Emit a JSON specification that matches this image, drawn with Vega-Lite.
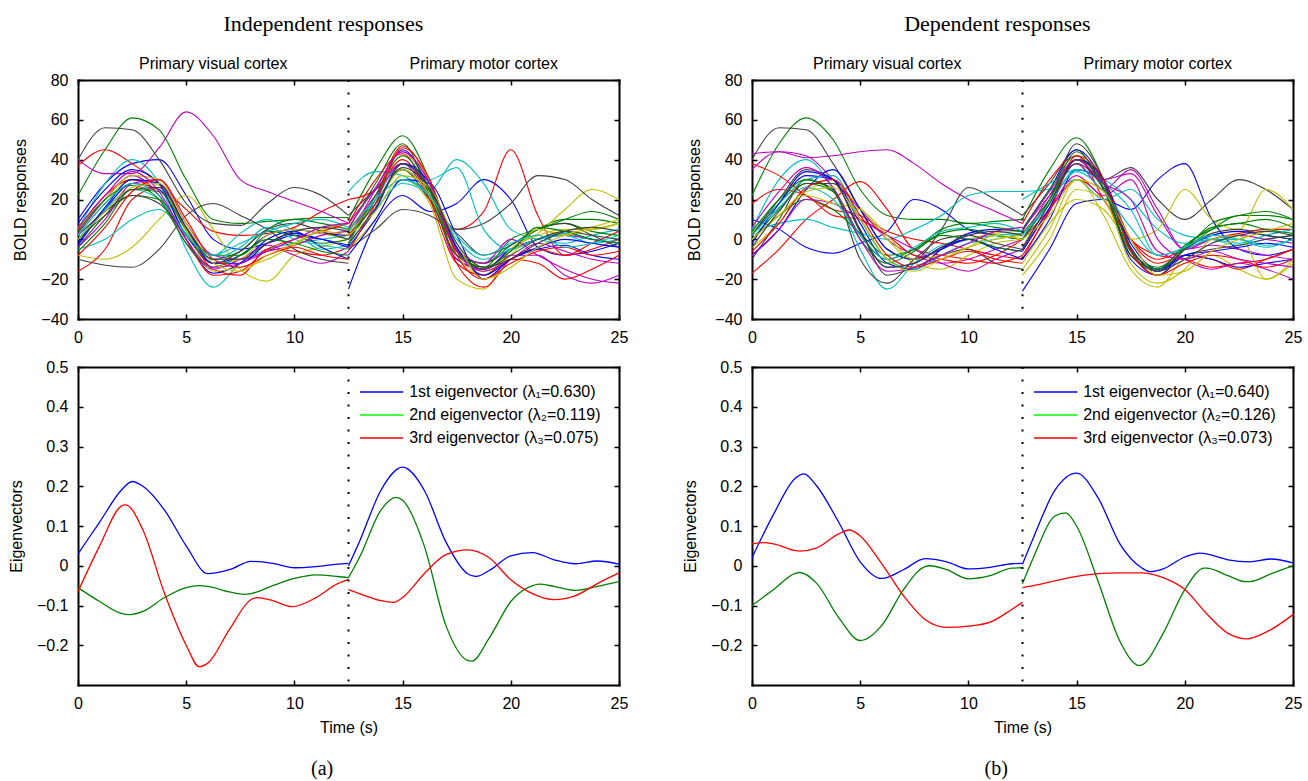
{
"$schema":"https://vega.github.io/schema/vega-lite/v6.json",
"background":"white",
"padding":{"left":8,"top":13,"right":6,"bottom":4},
"config":{"view":{"stroke":null},"font":"Liberation Sans",
"axis":{"grid":false,"domainColor":"black","domainWidth":2,"domainCap":"square","tickColor":"black","tickWidth":1.5,"tickSize":-5,"labelFont":"Liberation Sans","labelFontSize":16,"labelColor":"black","labelPadding":15,"titleFont":"Liberation Sans","titleFontSize":16,"titleFontWeight":"normal","titleColor":"black","titlePadding":12,"labelFlush":false,"labelOverlap":false,"zindex":1},
"axisX":{"labelPadding":15,"titlePadding":8},
"text":{"font":"Liberation Sans","fontSize":16,"color":"black"}},
"datasets":{
"ia":[
{"c":1,"s":0,"t":0,"y":10},{"c":1,"s":0,"t":1.25,"y":28},{"c":1,"s":0,"t":2.5,"y":38},{"c":1,"s":0,"t":3.75,"y":40},{"c":1,"s":0,"t":5,"y":22},{"c":1,"s":0,"t":6.25,"y":0},{"c":1,"s":0,"t":7.5,"y":-5},{"c":1,"s":0,"t":8.75,"y":-2},{"c":1,"s":0,"t":10,"y":2},{"c":1,"s":0,"t":11.25,"y":0},{"c":1,"s":0,"t":12.5,"y":-3},
{"c":1,"s":1,"t":12.5,"y":-25},{"c":1,"s":1,"t":13.75,"y":8},{"c":1,"s":1,"t":15,"y":22},{"c":1,"s":1,"t":16.25,"y":14},{"c":1,"s":1,"t":17.5,"y":18},{"c":1,"s":1,"t":18.75,"y":30},{"c":1,"s":1,"t":20,"y":20},{"c":1,"s":1,"t":21.25,"y":-4},{"c":1,"s":1,"t":22.5,"y":-8},{"c":1,"s":1,"t":23.75,"y":-6},{"c":1,"s":1,"t":25,"y":-2},
{"c":2,"s":0,"t":0,"y":22},{"c":2,"s":0,"t":1.25,"y":45},{"c":2,"s":0,"t":2.5,"y":61},{"c":2,"s":0,"t":3.75,"y":55},{"c":2,"s":0,"t":5,"y":30},{"c":2,"s":0,"t":6.25,"y":10},{"c":2,"s":0,"t":7.5,"y":8},{"c":2,"s":0,"t":8.75,"y":9},{"c":2,"s":0,"t":10,"y":10},{"c":2,"s":0,"t":11.25,"y":11},{"c":2,"s":0,"t":12.5,"y":11},
{"c":2,"s":1,"t":12.5,"y":10},{"c":2,"s":1,"t":13.75,"y":35},{"c":2,"s":1,"t":15,"y":52},{"c":2,"s":1,"t":16.25,"y":30},{"c":2,"s":1,"t":17.5,"y":-5},{"c":2,"s":1,"t":18.75,"y":-15},{"c":2,"s":1,"t":20,"y":-5},{"c":2,"s":1,"t":21.25,"y":5},{"c":2,"s":1,"t":22.5,"y":10},{"c":2,"s":1,"t":23.75,"y":10},{"c":2,"s":1,"t":25,"y":8},
{"c":3,"s":0,"t":0,"y":37},{"c":3,"s":0,"t":1.25,"y":45},{"c":3,"s":0,"t":2.5,"y":38},{"c":3,"s":0,"t":3.75,"y":28},{"c":3,"s":0,"t":5,"y":15},{"c":3,"s":0,"t":6.25,"y":4},{"c":3,"s":0,"t":7.5,"y":2},{"c":3,"s":0,"t":8.75,"y":3},{"c":3,"s":0,"t":10,"y":6},{"c":3,"s":0,"t":11.25,"y":14},{"c":3,"s":0,"t":12.5,"y":20},
{"c":3,"s":1,"t":12.5,"y":20},{"c":3,"s":1,"t":13.75,"y":25},{"c":3,"s":1,"t":15,"y":40},{"c":3,"s":1,"t":16.25,"y":22},{"c":3,"s":1,"t":17.5,"y":5},{"c":3,"s":1,"t":18.75,"y":14},{"c":3,"s":1,"t":20,"y":45},{"c":3,"s":1,"t":21.25,"y":12},{"c":3,"s":1,"t":22.5,"y":-8},{"c":3,"s":1,"t":23.75,"y":-2},{"c":3,"s":1,"t":25,"y":4},
{"c":4,"s":0,"t":0,"y":5},{"c":4,"s":0,"t":1.25,"y":28},{"c":4,"s":0,"t":2.5,"y":40},{"c":4,"s":0,"t":3.75,"y":28},{"c":4,"s":0,"t":5,"y":-5},{"c":4,"s":0,"t":6.25,"y":-24},{"c":4,"s":0,"t":7.5,"y":-12},{"c":4,"s":0,"t":8.75,"y":-5},{"c":4,"s":0,"t":10,"y":-2},{"c":4,"s":0,"t":11.25,"y":0},{"c":4,"s":0,"t":12.5,"y":2},
{"c":4,"s":1,"t":12.5,"y":24},{"c":4,"s":1,"t":13.75,"y":34},{"c":4,"s":1,"t":15,"y":32},{"c":4,"s":1,"t":16.25,"y":25},{"c":4,"s":1,"t":17.5,"y":40},{"c":4,"s":1,"t":18.75,"y":28},{"c":4,"s":1,"t":20,"y":5},{"c":4,"s":1,"t":21.25,"y":0},{"c":4,"s":1,"t":22.5,"y":-2},{"c":4,"s":1,"t":23.75,"y":2},{"c":4,"s":1,"t":25,"y":5},
{"c":5,"s":0,"t":0,"y":40},{"c":5,"s":0,"t":1.25,"y":33},{"c":5,"s":0,"t":2.5,"y":33},{"c":5,"s":0,"t":3.75,"y":46},{"c":5,"s":0,"t":5,"y":64},{"c":5,"s":0,"t":6.25,"y":52},{"c":5,"s":0,"t":7.5,"y":30},{"c":5,"s":0,"t":8.75,"y":24},{"c":5,"s":0,"t":10,"y":19},{"c":5,"s":0,"t":11.25,"y":14},{"c":5,"s":0,"t":12.5,"y":8},
{"c":5,"s":1,"t":12.5,"y":8},{"c":5,"s":1,"t":13.75,"y":25},{"c":5,"s":1,"t":15,"y":38},{"c":5,"s":1,"t":16.25,"y":20},{"c":5,"s":1,"t":17.5,"y":-5},{"c":5,"s":1,"t":18.75,"y":-12},{"c":5,"s":1,"t":20,"y":-5},{"c":5,"s":1,"t":21.25,"y":0},{"c":5,"s":1,"t":22.5,"y":2},{"c":5,"s":1,"t":23.75,"y":0},{"c":5,"s":1,"t":25,"y":-2},
{"c":6,"s":0,"t":0,"y":-8},{"c":6,"s":0,"t":1.25,"y":-10},{"c":6,"s":0,"t":2.5,"y":-4},{"c":6,"s":0,"t":3.75,"y":10},{"c":6,"s":0,"t":5,"y":22},{"c":6,"s":0,"t":6.25,"y":5},{"c":6,"s":0,"t":7.5,"y":-15},{"c":6,"s":0,"t":8.75,"y":-21},{"c":6,"s":0,"t":10,"y":-8},{"c":6,"s":0,"t":11.25,"y":-4},{"c":6,"s":0,"t":12.5,"y":0},
{"c":6,"s":1,"t":12.5,"y":-5},{"c":6,"s":1,"t":13.75,"y":10},{"c":6,"s":1,"t":15,"y":30},{"c":6,"s":1,"t":16.25,"y":18},{"c":6,"s":1,"t":17.5,"y":-20},{"c":6,"s":1,"t":18.75,"y":-25},{"c":6,"s":1,"t":20,"y":-5},{"c":6,"s":1,"t":21.25,"y":3},{"c":6,"s":1,"t":22.5,"y":15},{"c":6,"s":1,"t":23.75,"y":25},{"c":6,"s":1,"t":25,"y":20},
{"c":7,"s":0,"t":0,"y":40},{"c":7,"s":0,"t":1.25,"y":56},{"c":7,"s":0,"t":2.5,"y":55},{"c":7,"s":0,"t":3.75,"y":40},{"c":7,"s":0,"t":5,"y":18},{"c":7,"s":0,"t":6.25,"y":8},{"c":7,"s":0,"t":7.5,"y":7},{"c":7,"s":0,"t":8.75,"y":18},{"c":7,"s":0,"t":10,"y":26},{"c":7,"s":0,"t":11.25,"y":22},{"c":7,"s":0,"t":12.5,"y":12},
{"c":7,"s":1,"t":12.5,"y":12},{"c":7,"s":1,"t":13.75,"y":25},{"c":7,"s":1,"t":15,"y":35},{"c":7,"s":1,"t":16.25,"y":20},{"c":7,"s":1,"t":17.5,"y":5},{"c":7,"s":1,"t":18.75,"y":8},{"c":7,"s":1,"t":20,"y":18},{"c":7,"s":1,"t":21.25,"y":32},{"c":7,"s":1,"t":22.5,"y":30},{"c":7,"s":1,"t":23.75,"y":20},{"c":7,"s":1,"t":25,"y":12},
{"c":8,"s":0,"t":0,"y":-3},{"c":8,"s":0,"t":1.25,"y":15},{"c":8,"s":0,"t":2.5,"y":28},{"c":8,"s":0,"t":3.75,"y":25},{"c":8,"s":0,"t":5,"y":2},{"c":8,"s":0,"t":6.25,"y":-12},{"c":8,"s":0,"t":7.5,"y":-8},{"c":8,"s":0,"t":8.75,"y":2},{"c":8,"s":0,"t":10,"y":5},{"c":8,"s":0,"t":11.25,"y":3},{"c":8,"s":0,"t":12.5,"y":2},
{"c":8,"s":1,"t":12.5,"y":0},{"c":8,"s":1,"t":13.75,"y":20},{"c":8,"s":1,"t":15,"y":45},{"c":8,"s":1,"t":16.25,"y":25},{"c":8,"s":1,"t":17.5,"y":-10},{"c":8,"s":1,"t":18.75,"y":-15},{"c":8,"s":1,"t":20,"y":-5},{"c":8,"s":1,"t":21.25,"y":0},{"c":8,"s":1,"t":22.5,"y":3},{"c":8,"s":1,"t":23.75,"y":0},{"c":8,"s":1,"t":25,"y":-2},
{"c":9,"s":0,"t":0,"y":0},{"c":9,"s":0,"t":1.25,"y":12},{"c":9,"s":0,"t":2.5,"y":22},{"c":9,"s":0,"t":3.75,"y":20},{"c":9,"s":0,"t":5,"y":2},{"c":9,"s":0,"t":6.25,"y":-10},{"c":9,"s":0,"t":7.5,"y":-6},{"c":9,"s":0,"t":8.75,"y":4},{"c":9,"s":0,"t":10,"y":2},{"c":9,"s":0,"t":11.25,"y":-2},{"c":9,"s":0,"t":12.5,"y":0},
{"c":9,"s":1,"t":12.5,"y":2},{"c":9,"s":1,"t":13.75,"y":18},{"c":9,"s":1,"t":15,"y":35},{"c":9,"s":1,"t":16.25,"y":22},{"c":9,"s":1,"t":17.5,"y":-8},{"c":9,"s":1,"t":18.75,"y":-12},{"c":9,"s":1,"t":20,"y":-3},{"c":9,"s":1,"t":21.25,"y":5},{"c":9,"s":1,"t":22.5,"y":8},{"c":9,"s":1,"t":23.75,"y":4},{"c":9,"s":1,"t":25,"y":2},
{"c":10,"s":0,"t":0,"y":-16},{"c":10,"s":0,"t":1.25,"y":-5},{"c":10,"s":0,"t":2.5,"y":20},{"c":10,"s":0,"t":3.75,"y":26},{"c":10,"s":0,"t":5,"y":5},{"c":10,"s":0,"t":6.25,"y":-15},{"c":10,"s":0,"t":7.5,"y":-18},{"c":10,"s":0,"t":8.75,"y":-5},{"c":10,"s":0,"t":10,"y":-6},{"c":10,"s":0,"t":11.25,"y":-8},{"c":10,"s":0,"t":12.5,"y":-4},
{"c":10,"s":1,"t":12.5,"y":2},{"c":10,"s":1,"t":13.75,"y":22},{"c":10,"s":1,"t":15,"y":47},{"c":10,"s":1,"t":16.25,"y":28},{"c":10,"s":1,"t":17.5,"y":-12},{"c":10,"s":1,"t":18.75,"y":-24},{"c":10,"s":1,"t":20,"y":-10},{"c":10,"s":1,"t":21.25,"y":-5},{"c":10,"s":1,"t":22.5,"y":-8},{"c":10,"s":1,"t":23.75,"y":-5},{"c":10,"s":1,"t":25,"y":0},
{"c":11,"s":0,"t":0,"y":-5},{"c":11,"s":0,"t":1.25,"y":0},{"c":11,"s":0,"t":2.5,"y":10},{"c":11,"s":0,"t":3.75,"y":15},{"c":11,"s":0,"t":5,"y":2},{"c":11,"s":0,"t":6.25,"y":-8},{"c":11,"s":0,"t":7.5,"y":3},{"c":11,"s":0,"t":8.75,"y":10},{"c":11,"s":0,"t":10,"y":4},{"c":11,"s":0,"t":11.25,"y":-5},{"c":11,"s":0,"t":12.5,"y":-3},
{"c":11,"s":1,"t":12.5,"y":0},{"c":11,"s":1,"t":13.75,"y":20},{"c":11,"s":1,"t":15,"y":38},{"c":11,"s":1,"t":16.25,"y":30},{"c":11,"s":1,"t":17.5,"y":36},{"c":11,"s":1,"t":18.75,"y":5},{"c":11,"s":1,"t":20,"y":-5},{"c":11,"s":1,"t":21.25,"y":0},{"c":11,"s":1,"t":22.5,"y":2},{"c":11,"s":1,"t":23.75,"y":-2},{"c":11,"s":1,"t":25,"y":0},
{"c":12,"s":0,"t":0,"y":3},{"c":12,"s":0,"t":1.25,"y":20},{"c":12,"s":0,"t":2.5,"y":32},{"c":12,"s":0,"t":3.75,"y":22},{"c":12,"s":0,"t":5,"y":-2},{"c":12,"s":0,"t":6.25,"y":-15},{"c":12,"s":0,"t":7.5,"y":-10},{"c":12,"s":0,"t":8.75,"y":-3},{"c":12,"s":0,"t":10,"y":-8},{"c":12,"s":0,"t":11.25,"y":-12},{"c":12,"s":0,"t":12.5,"y":-6},
{"c":12,"s":1,"t":12.5,"y":0},{"c":12,"s":1,"t":13.75,"y":25},{"c":12,"s":1,"t":15,"y":44},{"c":12,"s":1,"t":16.25,"y":25},{"c":12,"s":1,"t":17.5,"y":-10},{"c":12,"s":1,"t":18.75,"y":-15},{"c":12,"s":1,"t":20,"y":-8},{"c":12,"s":1,"t":21.25,"y":-8},{"c":12,"s":1,"t":22.5,"y":-18},{"c":12,"s":1,"t":23.75,"y":-22},{"c":12,"s":1,"t":25,"y":-18},
{"c":13,"s":0,"t":0,"y":2},{"c":13,"s":0,"t":1.25,"y":18},{"c":13,"s":0,"t":2.5,"y":30},{"c":13,"s":0,"t":3.75,"y":27},{"c":13,"s":0,"t":5,"y":4},{"c":13,"s":0,"t":6.25,"y":-12},{"c":13,"s":0,"t":7.5,"y":-10},{"c":13,"s":0,"t":8.75,"y":2},{"c":13,"s":0,"t":10,"y":5},{"c":13,"s":0,"t":11.25,"y":3},{"c":13,"s":0,"t":12.5,"y":0},
{"c":13,"s":1,"t":12.5,"y":5},{"c":13,"s":1,"t":13.75,"y":22},{"c":13,"s":1,"t":15,"y":42},{"c":13,"s":1,"t":16.25,"y":30},{"c":13,"s":1,"t":17.5,"y":-8},{"c":13,"s":1,"t":18.75,"y":-18},{"c":13,"s":1,"t":20,"y":-5},{"c":13,"s":1,"t":21.25,"y":2},{"c":13,"s":1,"t":22.5,"y":5},{"c":13,"s":1,"t":23.75,"y":5},{"c":13,"s":1,"t":25,"y":8},
{"c":14,"s":0,"t":0,"y":-10},{"c":14,"s":0,"t":1.25,"y":-13},{"c":14,"s":0,"t":2.5,"y":-14},{"c":14,"s":0,"t":3.75,"y":-5},{"c":14,"s":0,"t":5,"y":12},{"c":14,"s":0,"t":6.25,"y":18},{"c":14,"s":0,"t":7.5,"y":12},{"c":14,"s":0,"t":8.75,"y":5},{"c":14,"s":0,"t":10,"y":-5},{"c":14,"s":0,"t":11.25,"y":-10},{"c":14,"s":0,"t":12.5,"y":-12},
{"c":14,"s":1,"t":12.5,"y":-5},{"c":14,"s":1,"t":13.75,"y":5},{"c":14,"s":1,"t":15,"y":15},{"c":14,"s":1,"t":16.25,"y":12},{"c":14,"s":1,"t":17.5,"y":3},{"c":14,"s":1,"t":18.75,"y":-8},{"c":14,"s":1,"t":20,"y":-3},{"c":14,"s":1,"t":21.25,"y":5},{"c":14,"s":1,"t":22.5,"y":8},{"c":14,"s":1,"t":23.75,"y":2},{"c":14,"s":1,"t":25,"y":-4},
{"c":15,"s":0,"t":0,"y":8},{"c":15,"s":0,"t":1.25,"y":25},{"c":15,"s":0,"t":2.5,"y":35},{"c":15,"s":0,"t":3.75,"y":28},{"c":15,"s":0,"t":5,"y":0},{"c":15,"s":0,"t":6.25,"y":-17},{"c":15,"s":0,"t":7.5,"y":-12},{"c":15,"s":0,"t":8.75,"y":0},{"c":15,"s":0,"t":10,"y":4},{"c":15,"s":0,"t":11.25,"y":-4},{"c":15,"s":0,"t":12.5,"y":-10},
{"c":15,"s":1,"t":12.5,"y":-8},{"c":15,"s":1,"t":13.75,"y":10},{"c":15,"s":1,"t":15,"y":30},{"c":15,"s":1,"t":16.25,"y":28},{"c":15,"s":1,"t":17.5,"y":2},{"c":15,"s":1,"t":18.75,"y":-20},{"c":15,"s":1,"t":20,"y":-10},{"c":15,"s":1,"t":21.25,"y":-5},{"c":15,"s":1,"t":22.5,"y":-3},{"c":15,"s":1,"t":23.75,"y":-8},{"c":15,"s":1,"t":25,"y":-10},
{"c":16,"s":0,"t":0,"y":-6},{"c":16,"s":0,"t":1.25,"y":8},{"c":16,"s":0,"t":2.5,"y":25},{"c":16,"s":0,"t":3.75,"y":24},{"c":16,"s":0,"t":5,"y":5},{"c":16,"s":0,"t":6.25,"y":-8},{"c":16,"s":0,"t":7.5,"y":-8},{"c":16,"s":0,"t":8.75,"y":5},{"c":16,"s":0,"t":10,"y":10},{"c":16,"s":0,"t":11.25,"y":8},{"c":16,"s":0,"t":12.5,"y":5},
{"c":16,"s":1,"t":12.5,"y":5},{"c":16,"s":1,"t":13.75,"y":28},{"c":16,"s":1,"t":15,"y":48},{"c":16,"s":1,"t":16.25,"y":22},{"c":16,"s":1,"t":17.5,"y":-8},{"c":16,"s":1,"t":18.75,"y":-14},{"c":16,"s":1,"t":20,"y":0},{"c":16,"s":1,"t":21.25,"y":5},{"c":16,"s":1,"t":22.5,"y":10},{"c":16,"s":1,"t":23.75,"y":14},{"c":16,"s":1,"t":25,"y":10},
{"c":17,"s":0,"t":0,"y":5},{"c":17,"s":0,"t":1.25,"y":22},{"c":17,"s":0,"t":2.5,"y":30},{"c":17,"s":0,"t":3.75,"y":22},{"c":17,"s":0,"t":5,"y":0},{"c":17,"s":0,"t":6.25,"y":-18},{"c":17,"s":0,"t":7.5,"y":-16},{"c":17,"s":0,"t":8.75,"y":-5},{"c":17,"s":0,"t":10,"y":0},{"c":17,"s":0,"t":11.25,"y":4},{"c":17,"s":0,"t":12.5,"y":8},
{"c":17,"s":1,"t":12.5,"y":8},{"c":17,"s":1,"t":13.75,"y":30},{"c":17,"s":1,"t":15,"y":43},{"c":17,"s":1,"t":16.25,"y":20},{"c":17,"s":1,"t":17.5,"y":-12},{"c":17,"s":1,"t":18.75,"y":-18},{"c":17,"s":1,"t":20,"y":-10},{"c":17,"s":1,"t":21.25,"y":-12},{"c":17,"s":1,"t":22.5,"y":-20},{"c":17,"s":1,"t":23.75,"y":-15},{"c":17,"s":1,"t":25,"y":-8},
{"c":18,"s":0,"t":0,"y":0},{"c":18,"s":0,"t":1.25,"y":15},{"c":18,"s":0,"t":2.5,"y":25},{"c":18,"s":0,"t":3.75,"y":20},{"c":18,"s":0,"t":5,"y":3},{"c":18,"s":0,"t":6.25,"y":-10},{"c":18,"s":0,"t":7.5,"y":-4},{"c":18,"s":0,"t":8.75,"y":6},{"c":18,"s":0,"t":10,"y":0},{"c":18,"s":0,"t":11.25,"y":-3},{"c":18,"s":0,"t":12.5,"y":-5},
{"c":18,"s":1,"t":12.5,"y":-3},{"c":18,"s":1,"t":13.75,"y":15},{"c":18,"s":1,"t":15,"y":28},{"c":18,"s":1,"t":16.25,"y":22},{"c":18,"s":1,"t":17.5,"y":0},{"c":18,"s":1,"t":18.75,"y":-10},{"c":18,"s":1,"t":20,"y":-5},{"c":18,"s":1,"t":21.25,"y":0},{"c":18,"s":1,"t":22.5,"y":3},{"c":18,"s":1,"t":23.75,"y":0},{"c":18,"s":1,"t":25,"y":-2},
{"c":19,"s":0,"t":0,"y":-4},{"c":19,"s":0,"t":1.25,"y":10},{"c":19,"s":0,"t":2.5,"y":28},{"c":19,"s":0,"t":3.75,"y":30},{"c":19,"s":0,"t":5,"y":8},{"c":19,"s":0,"t":6.25,"y":-8},{"c":19,"s":0,"t":7.5,"y":-10},{"c":19,"s":0,"t":8.75,"y":-6},{"c":19,"s":0,"t":10,"y":-3},{"c":19,"s":0,"t":11.25,"y":2},{"c":19,"s":0,"t":12.5,"y":4},
{"c":19,"s":1,"t":12.5,"y":4},{"c":19,"s":1,"t":13.75,"y":22},{"c":19,"s":1,"t":15,"y":38},{"c":19,"s":1,"t":16.25,"y":25},{"c":19,"s":1,"t":17.5,"y":-5},{"c":19,"s":1,"t":18.75,"y":-12},{"c":19,"s":1,"t":20,"y":0},{"c":19,"s":1,"t":21.25,"y":-8},{"c":19,"s":1,"t":22.5,"y":-15},{"c":19,"s":1,"t":23.75,"y":-20},{"c":19,"s":1,"t":25,"y":-22},
{"c":20,"s":0,"t":0,"y":6},{"c":20,"s":0,"t":1.25,"y":20},{"c":20,"s":0,"t":2.5,"y":32},{"c":20,"s":0,"t":3.75,"y":30},{"c":20,"s":0,"t":5,"y":5},{"c":20,"s":0,"t":6.25,"y":-16},{"c":20,"s":0,"t":7.5,"y":-14},{"c":20,"s":0,"t":8.75,"y":-10},{"c":20,"s":0,"t":10,"y":-3},{"c":20,"s":0,"t":11.25,"y":5},{"c":20,"s":0,"t":12.5,"y":8},
{"c":20,"s":1,"t":12.5,"y":3},{"c":20,"s":1,"t":13.75,"y":18},{"c":20,"s":1,"t":15,"y":35},{"c":20,"s":1,"t":16.25,"y":22},{"c":20,"s":1,"t":17.5,"y":-6},{"c":20,"s":1,"t":18.75,"y":-16},{"c":20,"s":1,"t":20,"y":-8},{"c":20,"s":1,"t":21.25,"y":5},{"c":20,"s":1,"t":22.5,"y":2},{"c":20,"s":1,"t":23.75,"y":5},{"c":20,"s":1,"t":25,"y":8},
{"c":21,"s":0,"t":0,"y":2},{"c":21,"s":0,"t":1.25,"y":14},{"c":21,"s":0,"t":2.5,"y":22},{"c":21,"s":0,"t":3.75,"y":18},{"c":21,"s":0,"t":5,"y":2},{"c":21,"s":0,"t":6.25,"y":-12},{"c":21,"s":0,"t":7.5,"y":-6},{"c":21,"s":0,"t":8.75,"y":5},{"c":21,"s":0,"t":10,"y":8},{"c":21,"s":0,"t":11.25,"y":4},{"c":21,"s":0,"t":12.5,"y":0},
{"c":21,"s":1,"t":12.5,"y":0},{"c":21,"s":1,"t":13.75,"y":18},{"c":21,"s":1,"t":15,"y":36},{"c":21,"s":1,"t":16.25,"y":25},{"c":21,"s":1,"t":17.5,"y":-4},{"c":21,"s":1,"t":18.75,"y":-15},{"c":21,"s":1,"t":20,"y":-8},{"c":21,"s":1,"t":21.25,"y":0},{"c":21,"s":1,"t":22.5,"y":4},{"c":21,"s":1,"t":23.75,"y":2},{"c":21,"s":1,"t":25,"y":0},
{"c":22,"s":0,"t":0,"y":-2},{"c":22,"s":0,"t":1.25,"y":16},{"c":22,"s":0,"t":2.5,"y":30},{"c":22,"s":0,"t":3.75,"y":28},{"c":22,"s":0,"t":5,"y":6},{"c":22,"s":0,"t":6.25,"y":-12},{"c":22,"s":0,"t":7.5,"y":-12},{"c":22,"s":0,"t":8.75,"y":-2},{"c":22,"s":0,"t":10,"y":3},{"c":22,"s":0,"t":11.25,"y":0},{"c":22,"s":0,"t":12.5,"y":-4},
{"c":22,"s":1,"t":12.5,"y":-4},{"c":22,"s":1,"t":13.75,"y":15},{"c":22,"s":1,"t":15,"y":38},{"c":22,"s":1,"t":16.25,"y":28},{"c":22,"s":1,"t":17.5,"y":-4},{"c":22,"s":1,"t":18.75,"y":-18},{"c":22,"s":1,"t":20,"y":-10},{"c":22,"s":1,"t":21.25,"y":-4},{"c":22,"s":1,"t":22.5,"y":0},{"c":22,"s":1,"t":23.75,"y":-2},{"c":22,"s":1,"t":25,"y":-4},
{"c":23,"s":0,"t":0,"y":4},{"c":23,"s":0,"t":1.25,"y":20},{"c":23,"s":0,"t":2.5,"y":27},{"c":23,"s":0,"t":3.75,"y":20},{"c":23,"s":0,"t":5,"y":-2},{"c":23,"s":0,"t":6.25,"y":-14},{"c":23,"s":0,"t":7.5,"y":-8},{"c":23,"s":0,"t":8.75,"y":0},{"c":23,"s":0,"t":10,"y":-2},{"c":23,"s":0,"t":11.25,"y":-6},{"c":23,"s":0,"t":12.5,"y":-8},
{"c":23,"s":1,"t":12.5,"y":-2},{"c":23,"s":1,"t":13.75,"y":22},{"c":23,"s":1,"t":15,"y":42},{"c":23,"s":1,"t":16.25,"y":24},{"c":23,"s":1,"t":17.5,"y":-6},{"c":23,"s":1,"t":18.75,"y":-14},{"c":23,"s":1,"t":20,"y":-6},{"c":23,"s":1,"t":21.25,"y":6},{"c":23,"s":1,"t":22.5,"y":4},{"c":23,"s":1,"t":23.75,"y":0},{"c":23,"s":1,"t":25,"y":-2},
{"c":24,"s":0,"t":0,"y":-8},{"c":24,"s":0,"t":1.25,"y":6},{"c":24,"s":0,"t":2.5,"y":24},{"c":24,"s":0,"t":3.75,"y":30},{"c":24,"s":0,"t":5,"y":10},{"c":24,"s":0,"t":6.25,"y":-10},{"c":24,"s":0,"t":7.5,"y":-14},{"c":24,"s":0,"t":8.75,"y":-8},{"c":24,"s":0,"t":10,"y":-4},{"c":24,"s":0,"t":11.25,"y":-8},{"c":24,"s":0,"t":12.5,"y":-10},
{"c":24,"s":1,"t":12.5,"y":-6},{"c":24,"s":1,"t":13.75,"y":18},{"c":24,"s":1,"t":15,"y":46},{"c":24,"s":1,"t":16.25,"y":30},{"c":24,"s":1,"t":17.5,"y":-8},{"c":24,"s":1,"t":18.75,"y":-20},{"c":24,"s":1,"t":20,"y":-12},{"c":24,"s":1,"t":21.25,"y":-6},{"c":24,"s":1,"t":22.5,"y":-4},{"c":24,"s":1,"t":23.75,"y":-8},{"c":24,"s":1,"t":25,"y":-6},
{"c":25,"s":0,"t":0,"y":2},{"c":25,"s":0,"t":1.25,"y":18},{"c":25,"s":0,"t":2.5,"y":28},{"c":25,"s":0,"t":3.75,"y":22},{"c":25,"s":0,"t":5,"y":2},{"c":25,"s":0,"t":6.25,"y":-8},{"c":25,"s":0,"t":7.5,"y":-2},{"c":25,"s":0,"t":8.75,"y":4},{"c":25,"s":0,"t":10,"y":8},{"c":25,"s":0,"t":11.25,"y":10},{"c":25,"s":0,"t":12.5,"y":6},
{"c":25,"s":1,"t":12.5,"y":4},{"c":25,"s":1,"t":13.75,"y":20},{"c":25,"s":1,"t":15,"y":30},{"c":25,"s":1,"t":16.25,"y":22},{"c":25,"s":1,"t":17.5,"y":2},{"c":25,"s":1,"t":18.75,"y":-8},{"c":25,"s":1,"t":20,"y":-2},{"c":25,"s":1,"t":21.25,"y":2},{"c":25,"s":1,"t":22.5,"y":-4},{"c":25,"s":1,"t":23.75,"y":-2},{"c":25,"s":1,"t":25,"y":2},
{"c":26,"s":0,"t":0,"y":6},{"c":26,"s":0,"t":1.25,"y":22},{"c":26,"s":0,"t":2.5,"y":34},{"c":26,"s":0,"t":3.75,"y":24},{"c":26,"s":0,"t":5,"y":0},{"c":26,"s":0,"t":6.25,"y":-14},{"c":26,"s":0,"t":7.5,"y":-12},{"c":26,"s":0,"t":8.75,"y":-6},{"c":26,"s":0,"t":10,"y":0},{"c":26,"s":0,"t":11.25,"y":6},{"c":26,"s":0,"t":12.5,"y":8},
{"c":26,"s":1,"t":12.5,"y":6},{"c":26,"s":1,"t":13.75,"y":26},{"c":26,"s":1,"t":15,"y":44},{"c":26,"s":1,"t":16.25,"y":28},{"c":26,"s":1,"t":17.5,"y":-6},{"c":26,"s":1,"t":18.75,"y":-16},{"c":26,"s":1,"t":20,"y":-10},{"c":26,"s":1,"t":21.25,"y":-2},{"c":26,"s":1,"t":22.5,"y":-6},{"c":26,"s":1,"t":23.75,"y":-10},{"c":26,"s":1,"t":25,"y":-12},
{"c":27,"s":0,"t":0,"y":0},{"c":27,"s":0,"t":1.25,"y":14},{"c":27,"s":0,"t":2.5,"y":26},{"c":27,"s":0,"t":3.75,"y":28},{"c":27,"s":0,"t":5,"y":8},{"c":27,"s":0,"t":6.25,"y":-12},{"c":27,"s":0,"t":7.5,"y":-16},{"c":27,"s":0,"t":8.75,"y":-8},{"c":27,"s":0,"t":10,"y":-2},{"c":27,"s":0,"t":11.25,"y":4},{"c":27,"s":0,"t":12.5,"y":2},
{"c":27,"s":1,"t":12.5,"y":2},{"c":27,"s":1,"t":13.75,"y":14},{"c":27,"s":1,"t":15,"y":32},{"c":27,"s":1,"t":16.25,"y":26},{"c":27,"s":1,"t":17.5,"y":-2},{"c":27,"s":1,"t":18.75,"y":-20},{"c":27,"s":1,"t":20,"y":-14},{"c":27,"s":1,"t":21.25,"y":-4},{"c":27,"s":1,"t":22.5,"y":2},{"c":27,"s":1,"t":23.75,"y":6},{"c":27,"s":1,"t":25,"y":10},
{"c":28,"s":0,"t":0,"y":-4},{"c":28,"s":0,"t":1.25,"y":12},{"c":28,"s":0,"t":2.5,"y":25},{"c":28,"s":0,"t":3.75,"y":26},{"c":28,"s":0,"t":5,"y":6},{"c":28,"s":0,"t":6.25,"y":-10},{"c":28,"s":0,"t":7.5,"y":-10},{"c":28,"s":0,"t":8.75,"y":-2},{"c":28,"s":0,"t":10,"y":4},{"c":28,"s":0,"t":11.25,"y":6},{"c":28,"s":0,"t":12.5,"y":4},
{"c":28,"s":1,"t":12.5,"y":-2},{"c":28,"s":1,"t":13.75,"y":16},{"c":28,"s":1,"t":15,"y":38},{"c":28,"s":1,"t":16.25,"y":26},{"c":28,"s":1,"t":17.5,"y":-2},{"c":28,"s":1,"t":18.75,"y":-14},{"c":28,"s":1,"t":20,"y":-10},{"c":28,"s":1,"t":21.25,"y":-2},{"c":28,"s":1,"t":22.5,"y":4},{"c":28,"s":1,"t":23.75,"y":6},{"c":28,"s":1,"t":25,"y":4}
],
"da":[
{"c":1,"s":0,"t":0,"y":10},{"c":1,"s":0,"t":1.25,"y":5},{"c":1,"s":0,"t":2.5,"y":-4},{"c":1,"s":0,"t":3.75,"y":-7},{"c":1,"s":0,"t":5,"y":-2},{"c":1,"s":0,"t":6.25,"y":4},{"c":1,"s":0,"t":7.5,"y":20},{"c":1,"s":0,"t":8.75,"y":15},{"c":1,"s":0,"t":10,"y":5},{"c":1,"s":0,"t":11.25,"y":2},{"c":1,"s":0,"t":12.5,"y":0},
{"c":1,"s":1,"t":12.5,"y":-26},{"c":1,"s":1,"t":13.75,"y":-5},{"c":1,"s":1,"t":15,"y":18},{"c":1,"s":1,"t":16.25,"y":20},{"c":1,"s":1,"t":17.5,"y":15},{"c":1,"s":1,"t":18.75,"y":30},{"c":1,"s":1,"t":20,"y":38},{"c":1,"s":1,"t":21.25,"y":10},{"c":1,"s":1,"t":22.5,"y":-5},{"c":1,"s":1,"t":23.75,"y":-8},{"c":1,"s":1,"t":25,"y":-5},
{"c":2,"s":0,"t":0,"y":22},{"c":2,"s":0,"t":1.25,"y":48},{"c":2,"s":0,"t":2.5,"y":61},{"c":2,"s":0,"t":3.75,"y":50},{"c":2,"s":0,"t":5,"y":25},{"c":2,"s":0,"t":6.25,"y":12},{"c":2,"s":0,"t":7.5,"y":10},{"c":2,"s":0,"t":8.75,"y":10},{"c":2,"s":0,"t":10,"y":8},{"c":2,"s":0,"t":11.25,"y":9},{"c":2,"s":0,"t":12.5,"y":10},
{"c":2,"s":1,"t":12.5,"y":10},{"c":2,"s":1,"t":13.75,"y":35},{"c":2,"s":1,"t":15,"y":51},{"c":2,"s":1,"t":16.25,"y":30},{"c":2,"s":1,"t":17.5,"y":-8},{"c":2,"s":1,"t":18.75,"y":-15},{"c":2,"s":1,"t":20,"y":-5},{"c":2,"s":1,"t":21.25,"y":5},{"c":2,"s":1,"t":22.5,"y":12},{"c":2,"s":1,"t":23.75,"y":12},{"c":2,"s":1,"t":25,"y":10},
{"c":3,"s":0,"t":0,"y":-17},{"c":3,"s":0,"t":1.25,"y":-5},{"c":3,"s":0,"t":2.5,"y":10},{"c":3,"s":0,"t":3.75,"y":20},{"c":3,"s":0,"t":5,"y":29},{"c":3,"s":0,"t":6.25,"y":15},{"c":3,"s":0,"t":7.5,"y":-5},{"c":3,"s":0,"t":8.75,"y":-8},{"c":3,"s":0,"t":10,"y":-10},{"c":3,"s":0,"t":11.25,"y":-12},{"c":3,"s":0,"t":12.5,"y":-8},
{"c":3,"s":1,"t":12.5,"y":0},{"c":3,"s":1,"t":13.75,"y":15},{"c":3,"s":1,"t":15,"y":30},{"c":3,"s":1,"t":16.25,"y":20},{"c":3,"s":1,"t":17.5,"y":0},{"c":3,"s":1,"t":18.75,"y":-10},{"c":3,"s":1,"t":20,"y":-5},{"c":3,"s":1,"t":21.25,"y":0},{"c":3,"s":1,"t":22.5,"y":3},{"c":3,"s":1,"t":23.75,"y":5},{"c":3,"s":1,"t":25,"y":5},
{"c":4,"s":0,"t":0,"y":5},{"c":4,"s":0,"t":1.25,"y":30},{"c":4,"s":0,"t":2.5,"y":40},{"c":4,"s":0,"t":3.75,"y":25},{"c":4,"s":0,"t":5,"y":-5},{"c":4,"s":0,"t":6.25,"y":-25},{"c":4,"s":0,"t":7.5,"y":-12},{"c":4,"s":0,"t":8.75,"y":-3},{"c":4,"s":0,"t":10,"y":0},{"c":4,"s":0,"t":11.25,"y":2},{"c":4,"s":0,"t":12.5,"y":3},
{"c":4,"s":1,"t":12.5,"y":24},{"c":4,"s":1,"t":13.75,"y":25},{"c":4,"s":1,"t":15,"y":30},{"c":4,"s":1,"t":16.25,"y":20},{"c":4,"s":1,"t":17.5,"y":25},{"c":4,"s":1,"t":18.75,"y":10},{"c":4,"s":1,"t":20,"y":2},{"c":4,"s":1,"t":21.25,"y":0},{"c":4,"s":1,"t":22.5,"y":-3},{"c":4,"s":1,"t":23.75,"y":0},{"c":4,"s":1,"t":25,"y":2},
{"c":5,"s":0,"t":0,"y":43},{"c":5,"s":0,"t":1.25,"y":44},{"c":5,"s":0,"t":2.5,"y":41},{"c":5,"s":0,"t":3.75,"y":42},{"c":5,"s":0,"t":5,"y":44},{"c":5,"s":0,"t":6.25,"y":45},{"c":5,"s":0,"t":7.5,"y":38},{"c":5,"s":0,"t":8.75,"y":28},{"c":5,"s":0,"t":10,"y":20},{"c":5,"s":0,"t":11.25,"y":14},{"c":5,"s":0,"t":12.5,"y":8},
{"c":5,"s":1,"t":12.5,"y":5},{"c":5,"s":1,"t":13.75,"y":22},{"c":5,"s":1,"t":15,"y":38},{"c":5,"s":1,"t":16.25,"y":25},{"c":5,"s":1,"t":17.5,"y":35},{"c":5,"s":1,"t":18.75,"y":15},{"c":5,"s":1,"t":20,"y":-5},{"c":5,"s":1,"t":21.25,"y":0},{"c":5,"s":1,"t":22.5,"y":2},{"c":5,"s":1,"t":23.75,"y":0},{"c":5,"s":1,"t":25,"y":-2},
{"c":6,"s":0,"t":0,"y":-4},{"c":6,"s":0,"t":1.25,"y":8},{"c":6,"s":0,"t":2.5,"y":25},{"c":6,"s":0,"t":3.75,"y":28},{"c":6,"s":0,"t":5,"y":10},{"c":6,"s":0,"t":6.25,"y":-10},{"c":6,"s":0,"t":7.5,"y":-15},{"c":6,"s":0,"t":8.75,"y":-5},{"c":6,"s":0,"t":10,"y":0},{"c":6,"s":0,"t":11.25,"y":3},{"c":6,"s":0,"t":12.5,"y":4},
{"c":6,"s":1,"t":12.5,"y":-15},{"c":6,"s":1,"t":13.75,"y":5},{"c":6,"s":1,"t":15,"y":30},{"c":6,"s":1,"t":16.25,"y":12},{"c":6,"s":1,"t":17.5,"y":-15},{"c":6,"s":1,"t":18.75,"y":-24},{"c":6,"s":1,"t":20,"y":-10},{"c":6,"s":1,"t":21.25,"y":-8},{"c":6,"s":1,"t":22.5,"y":-15},{"c":6,"s":1,"t":23.75,"y":-20},{"c":6,"s":1,"t":25,"y":-12},
{"c":7,"s":0,"t":0,"y":40},{"c":7,"s":0,"t":1.25,"y":56},{"c":7,"s":0,"t":2.5,"y":55},{"c":7,"s":0,"t":3.75,"y":38},{"c":7,"s":0,"t":5,"y":15},{"c":7,"s":0,"t":6.25,"y":-5},{"c":7,"s":0,"t":7.5,"y":-10},{"c":7,"s":0,"t":8.75,"y":5},{"c":7,"s":0,"t":10,"y":26},{"c":7,"s":0,"t":11.25,"y":20},{"c":7,"s":0,"t":12.5,"y":12},
{"c":7,"s":1,"t":12.5,"y":12},{"c":7,"s":1,"t":13.75,"y":28},{"c":7,"s":1,"t":15,"y":45},{"c":7,"s":1,"t":16.25,"y":30},{"c":7,"s":1,"t":17.5,"y":36},{"c":7,"s":1,"t":18.75,"y":20},{"c":7,"s":1,"t":20,"y":10},{"c":7,"s":1,"t":21.25,"y":20},{"c":7,"s":1,"t":22.5,"y":30},{"c":7,"s":1,"t":23.75,"y":25},{"c":7,"s":1,"t":25,"y":15},
{"c":8,"s":0,"t":0,"y":2},{"c":8,"s":0,"t":1.25,"y":18},{"c":8,"s":0,"t":2.5,"y":32},{"c":8,"s":0,"t":3.75,"y":30},{"c":8,"s":0,"t":5,"y":8},{"c":8,"s":0,"t":6.25,"y":-12},{"c":8,"s":0,"t":7.5,"y":-15},{"c":8,"s":0,"t":8.75,"y":-5},{"c":8,"s":0,"t":10,"y":3},{"c":8,"s":0,"t":11.25,"y":5},{"c":8,"s":0,"t":12.5,"y":4},
{"c":8,"s":1,"t":12.5,"y":5},{"c":8,"s":1,"t":13.75,"y":25},{"c":8,"s":1,"t":15,"y":45},{"c":8,"s":1,"t":16.25,"y":28},{"c":8,"s":1,"t":17.5,"y":-10},{"c":8,"s":1,"t":18.75,"y":-18},{"c":8,"s":1,"t":20,"y":-5},{"c":8,"s":1,"t":21.25,"y":2},{"c":8,"s":1,"t":22.5,"y":4},{"c":8,"s":1,"t":23.75,"y":2},{"c":8,"s":1,"t":25,"y":0},
{"c":9,"s":0,"t":0,"y":0},{"c":9,"s":0,"t":1.25,"y":15},{"c":9,"s":0,"t":2.5,"y":28},{"c":9,"s":0,"t":3.75,"y":24},{"c":9,"s":0,"t":5,"y":2},{"c":9,"s":0,"t":6.25,"y":-10},{"c":9,"s":0,"t":7.5,"y":-5},{"c":9,"s":0,"t":8.75,"y":3},{"c":9,"s":0,"t":10,"y":5},{"c":9,"s":0,"t":11.25,"y":2},{"c":9,"s":0,"t":12.5,"y":0},
{"c":9,"s":1,"t":12.5,"y":3},{"c":9,"s":1,"t":13.75,"y":20},{"c":9,"s":1,"t":15,"y":40},{"c":9,"s":1,"t":16.25,"y":30},{"c":9,"s":1,"t":17.5,"y":-5},{"c":9,"s":1,"t":18.75,"y":-15},{"c":9,"s":1,"t":20,"y":-3},{"c":9,"s":1,"t":21.25,"y":5},{"c":9,"s":1,"t":22.5,"y":8},{"c":9,"s":1,"t":23.75,"y":5},{"c":9,"s":1,"t":25,"y":3},
{"c":10,"s":0,"t":0,"y":38},{"c":10,"s":0,"t":1.25,"y":32},{"c":10,"s":0,"t":2.5,"y":22},{"c":10,"s":0,"t":3.75,"y":15},{"c":10,"s":0,"t":5,"y":12},{"c":10,"s":0,"t":6.25,"y":4},{"c":10,"s":0,"t":7.5,"y":0},{"c":10,"s":0,"t":8.75,"y":-2},{"c":10,"s":0,"t":10,"y":-5},{"c":10,"s":0,"t":11.25,"y":-8},{"c":10,"s":0,"t":12.5,"y":-10},
{"c":10,"s":1,"t":12.5,"y":-10},{"c":10,"s":1,"t":13.75,"y":15},{"c":10,"s":1,"t":15,"y":40},{"c":10,"s":1,"t":16.25,"y":30},{"c":10,"s":1,"t":17.5,"y":0},{"c":10,"s":1,"t":18.75,"y":-12},{"c":10,"s":1,"t":20,"y":-8},{"c":10,"s":1,"t":21.25,"y":-10},{"c":10,"s":1,"t":22.5,"y":-15},{"c":10,"s":1,"t":23.75,"y":-10},{"c":10,"s":1,"t":25,"y":-5},
{"c":11,"s":0,"t":0,"y":4},{"c":11,"s":0,"t":1.25,"y":8},{"c":11,"s":0,"t":2.5,"y":10},{"c":11,"s":0,"t":3.75,"y":6},{"c":11,"s":0,"t":5,"y":3},{"c":11,"s":0,"t":6.25,"y":0},{"c":11,"s":0,"t":7.5,"y":5},{"c":11,"s":0,"t":8.75,"y":12},{"c":11,"s":0,"t":10,"y":22},{"c":11,"s":0,"t":11.25,"y":24},{"c":11,"s":0,"t":12.5,"y":24},
{"c":11,"s":1,"t":12.5,"y":20},{"c":11,"s":1,"t":13.75,"y":28},{"c":11,"s":1,"t":15,"y":35},{"c":11,"s":1,"t":16.25,"y":30},{"c":11,"s":1,"t":17.5,"y":20},{"c":11,"s":1,"t":18.75,"y":5},{"c":11,"s":1,"t":20,"y":-2},{"c":11,"s":1,"t":21.25,"y":0},{"c":11,"s":1,"t":22.5,"y":-2},{"c":11,"s":1,"t":23.75,"y":2},{"c":11,"s":1,"t":25,"y":5},
{"c":12,"s":0,"t":0,"y":35},{"c":12,"s":0,"t":1.25,"y":44},{"c":12,"s":0,"t":2.5,"y":42},{"c":12,"s":0,"t":3.75,"y":30},{"c":12,"s":0,"t":5,"y":15},{"c":12,"s":0,"t":6.25,"y":0},{"c":12,"s":0,"t":7.5,"y":-8},{"c":12,"s":0,"t":8.75,"y":-12},{"c":12,"s":0,"t":10,"y":-10},{"c":12,"s":0,"t":11.25,"y":-5},{"c":12,"s":0,"t":12.5,"y":0},
{"c":12,"s":1,"t":12.5,"y":0},{"c":12,"s":1,"t":13.75,"y":22},{"c":12,"s":1,"t":15,"y":40},{"c":12,"s":1,"t":16.25,"y":30},{"c":12,"s":1,"t":17.5,"y":33},{"c":12,"s":1,"t":18.75,"y":12},{"c":12,"s":1,"t":20,"y":-5},{"c":12,"s":1,"t":21.25,"y":-3},{"c":12,"s":1,"t":22.5,"y":-5},{"c":12,"s":1,"t":23.75,"y":-8},{"c":12,"s":1,"t":25,"y":-10},
{"c":13,"s":0,"t":0,"y":3},{"c":13,"s":0,"t":1.25,"y":18},{"c":13,"s":0,"t":2.5,"y":28},{"c":13,"s":0,"t":3.75,"y":28},{"c":13,"s":0,"t":5,"y":16},{"c":13,"s":0,"t":6.25,"y":0},{"c":13,"s":0,"t":7.5,"y":-12},{"c":13,"s":0,"t":8.75,"y":-15},{"c":13,"s":0,"t":10,"y":-8},{"c":13,"s":0,"t":11.25,"y":-2},{"c":13,"s":0,"t":12.5,"y":0},
{"c":13,"s":1,"t":12.5,"y":-12},{"c":13,"s":1,"t":13.75,"y":8},{"c":13,"s":1,"t":15,"y":20},{"c":13,"s":1,"t":16.25,"y":15},{"c":13,"s":1,"t":17.5,"y":0},{"c":13,"s":1,"t":18.75,"y":5},{"c":13,"s":1,"t":20,"y":25},{"c":13,"s":1,"t":21.25,"y":10},{"c":13,"s":1,"t":22.5,"y":5},{"c":13,"s":1,"t":23.75,"y":25},{"c":13,"s":1,"t":25,"y":15},
{"c":14,"s":0,"t":0,"y":-10},{"c":14,"s":0,"t":1.25,"y":10},{"c":14,"s":0,"t":2.5,"y":30},{"c":14,"s":0,"t":3.75,"y":25},{"c":14,"s":0,"t":5,"y":-10},{"c":14,"s":0,"t":6.25,"y":-22},{"c":14,"s":0,"t":7.5,"y":-10},{"c":14,"s":0,"t":8.75,"y":0},{"c":14,"s":0,"t":10,"y":2},{"c":14,"s":0,"t":11.25,"y":-2},{"c":14,"s":0,"t":12.5,"y":-5},
{"c":14,"s":1,"t":12.5,"y":0},{"c":14,"s":1,"t":13.75,"y":20},{"c":14,"s":1,"t":15,"y":48},{"c":14,"s":1,"t":16.25,"y":30},{"c":14,"s":1,"t":17.5,"y":-5},{"c":14,"s":1,"t":18.75,"y":-18},{"c":14,"s":1,"t":20,"y":-8},{"c":14,"s":1,"t":21.25,"y":-5},{"c":14,"s":1,"t":22.5,"y":-3},{"c":14,"s":1,"t":23.75,"y":0},{"c":14,"s":1,"t":25,"y":2},
{"c":15,"s":0,"t":0,"y":-8},{"c":15,"s":0,"t":1.25,"y":5},{"c":15,"s":0,"t":2.5,"y":25},{"c":15,"s":0,"t":3.75,"y":35},{"c":15,"s":0,"t":5,"y":15},{"c":15,"s":0,"t":6.25,"y":-5},{"c":15,"s":0,"t":7.5,"y":-10},{"c":15,"s":0,"t":8.75,"y":-5},{"c":15,"s":0,"t":10,"y":0},{"c":15,"s":0,"t":11.25,"y":-5},{"c":15,"s":0,"t":12.5,"y":-10},
{"c":15,"s":1,"t":12.5,"y":-10},{"c":15,"s":1,"t":13.75,"y":10},{"c":15,"s":1,"t":15,"y":35},{"c":15,"s":1,"t":16.25,"y":28},{"c":15,"s":1,"t":17.5,"y":-2},{"c":15,"s":1,"t":18.75,"y":-15},{"c":15,"s":1,"t":20,"y":-8},{"c":15,"s":1,"t":21.25,"y":-10},{"c":15,"s":1,"t":22.5,"y":-14},{"c":15,"s":1,"t":23.75,"y":-12},{"c":15,"s":1,"t":25,"y":-10},
{"c":16,"s":0,"t":0,"y":0},{"c":16,"s":0,"t":1.25,"y":12},{"c":16,"s":0,"t":2.5,"y":20},{"c":16,"s":0,"t":3.75,"y":15},{"c":16,"s":0,"t":5,"y":3},{"c":16,"s":0,"t":6.25,"y":-8},{"c":16,"s":0,"t":7.5,"y":-5},{"c":16,"s":0,"t":8.75,"y":5},{"c":16,"s":0,"t":10,"y":8},{"c":16,"s":0,"t":11.25,"y":6},{"c":16,"s":0,"t":12.5,"y":4},
{"c":16,"s":1,"t":12.5,"y":5},{"c":16,"s":1,"t":13.75,"y":25},{"c":16,"s":1,"t":15,"y":42},{"c":16,"s":1,"t":16.25,"y":25},{"c":16,"s":1,"t":17.5,"y":-8},{"c":16,"s":1,"t":18.75,"y":-15},{"c":16,"s":1,"t":20,"y":-5},{"c":16,"s":1,"t":21.25,"y":8},{"c":16,"s":1,"t":22.5,"y":12},{"c":16,"s":1,"t":23.75,"y":14},{"c":16,"s":1,"t":25,"y":10},
{"c":17,"s":0,"t":0,"y":18},{"c":17,"s":0,"t":1.25,"y":25},{"c":17,"s":0,"t":2.5,"y":22},{"c":17,"s":0,"t":3.75,"y":12},{"c":17,"s":0,"t":5,"y":10},{"c":17,"s":0,"t":6.25,"y":2},{"c":17,"s":0,"t":7.5,"y":-8},{"c":17,"s":0,"t":8.75,"y":-10},{"c":17,"s":0,"t":10,"y":-12},{"c":17,"s":0,"t":11.25,"y":-8},{"c":17,"s":0,"t":12.5,"y":0},
{"c":17,"s":1,"t":12.5,"y":8},{"c":17,"s":1,"t":13.75,"y":30},{"c":17,"s":1,"t":15,"y":42},{"c":17,"s":1,"t":16.25,"y":20},{"c":17,"s":1,"t":17.5,"y":0},{"c":17,"s":1,"t":18.75,"y":-8},{"c":17,"s":1,"t":20,"y":-10},{"c":17,"s":1,"t":21.25,"y":-14},{"c":17,"s":1,"t":22.5,"y":-12},{"c":17,"s":1,"t":23.75,"y":-10},{"c":17,"s":1,"t":25,"y":-5},
{"c":18,"s":0,"t":0,"y":5},{"c":18,"s":0,"t":1.25,"y":18},{"c":18,"s":0,"t":2.5,"y":30},{"c":18,"s":0,"t":3.75,"y":32},{"c":18,"s":0,"t":5,"y":10},{"c":18,"s":0,"t":6.25,"y":-10},{"c":18,"s":0,"t":7.5,"y":-15},{"c":18,"s":0,"t":8.75,"y":-8},{"c":18,"s":0,"t":10,"y":-2},{"c":18,"s":0,"t":11.25,"y":0},{"c":18,"s":0,"t":12.5,"y":3},
{"c":18,"s":1,"t":12.5,"y":0},{"c":18,"s":1,"t":13.75,"y":18},{"c":18,"s":1,"t":15,"y":35},{"c":18,"s":1,"t":16.25,"y":28},{"c":18,"s":1,"t":17.5,"y":15},{"c":18,"s":1,"t":18.75,"y":-8},{"c":18,"s":1,"t":20,"y":-5},{"c":18,"s":1,"t":21.25,"y":0},{"c":18,"s":1,"t":22.5,"y":0},{"c":18,"s":1,"t":23.75,"y":-3},{"c":18,"s":1,"t":25,"y":0},
{"c":19,"s":0,"t":0,"y":-8},{"c":19,"s":0,"t":1.25,"y":5},{"c":19,"s":0,"t":2.5,"y":20},{"c":19,"s":0,"t":3.75,"y":18},{"c":19,"s":0,"t":5,"y":10},{"c":19,"s":0,"t":6.25,"y":2},{"c":19,"s":0,"t":7.5,"y":-5},{"c":19,"s":0,"t":8.75,"y":-12},{"c":19,"s":0,"t":10,"y":-16},{"c":19,"s":0,"t":11.25,"y":-10},{"c":19,"s":0,"t":12.5,"y":-5},
{"c":19,"s":1,"t":12.5,"y":-5},{"c":19,"s":1,"t":13.75,"y":15},{"c":19,"s":1,"t":15,"y":32},{"c":19,"s":1,"t":16.25,"y":22},{"c":19,"s":1,"t":17.5,"y":30},{"c":19,"s":1,"t":18.75,"y":0},{"c":19,"s":1,"t":20,"y":-10},{"c":19,"s":1,"t":21.25,"y":-15},{"c":19,"s":1,"t":22.5,"y":-12},{"c":19,"s":1,"t":23.75,"y":-15},{"c":19,"s":1,"t":25,"y":-20},
{"c":20,"s":0,"t":0,"y":0},{"c":20,"s":0,"t":1.25,"y":12},{"c":20,"s":0,"t":2.5,"y":22},{"c":20,"s":0,"t":3.75,"y":18},{"c":20,"s":0,"t":5,"y":15},{"c":20,"s":0,"t":6.25,"y":2},{"c":20,"s":0,"t":7.5,"y":-10},{"c":20,"s":0,"t":8.75,"y":-8},{"c":20,"s":0,"t":10,"y":-4},{"c":20,"s":0,"t":11.25,"y":0},{"c":20,"s":0,"t":12.5,"y":2},
{"c":20,"s":1,"t":12.5,"y":-18},{"c":20,"s":1,"t":13.75,"y":0},{"c":20,"s":1,"t":15,"y":25},{"c":20,"s":1,"t":16.25,"y":20},{"c":20,"s":1,"t":17.5,"y":-12},{"c":20,"s":1,"t":18.75,"y":-22},{"c":20,"s":1,"t":20,"y":-15},{"c":20,"s":1,"t":21.25,"y":0},{"c":20,"s":1,"t":22.5,"y":2},{"c":20,"s":1,"t":23.75,"y":-20},{"c":20,"s":1,"t":25,"y":-10},
{"c":21,"s":0,"t":0,"y":2},{"c":21,"s":0,"t":1.25,"y":20},{"c":21,"s":0,"t":2.5,"y":35},{"c":21,"s":0,"t":3.75,"y":30},{"c":21,"s":0,"t":5,"y":5},{"c":21,"s":0,"t":6.25,"y":-18},{"c":21,"s":0,"t":7.5,"y":-14},{"c":21,"s":0,"t":8.75,"y":-8},{"c":21,"s":0,"t":10,"y":-5},{"c":21,"s":0,"t":11.25,"y":-12},{"c":21,"s":0,"t":12.5,"y":-15},
{"c":21,"s":1,"t":12.5,"y":-5},{"c":21,"s":1,"t":13.75,"y":18},{"c":21,"s":1,"t":15,"y":38},{"c":21,"s":1,"t":16.25,"y":25},{"c":21,"s":1,"t":17.5,"y":-8},{"c":21,"s":1,"t":18.75,"y":-16},{"c":21,"s":1,"t":20,"y":-5},{"c":21,"s":1,"t":21.25,"y":3},{"c":21,"s":1,"t":22.5,"y":5},{"c":21,"s":1,"t":23.75,"y":2},{"c":21,"s":1,"t":25,"y":0},
{"c":22,"s":0,"t":0,"y":-2},{"c":22,"s":0,"t":1.25,"y":18},{"c":22,"s":0,"t":2.5,"y":34},{"c":22,"s":0,"t":3.75,"y":30},{"c":22,"s":0,"t":5,"y":4},{"c":22,"s":0,"t":6.25,"y":-14},{"c":22,"s":0,"t":7.5,"y":-12},{"c":22,"s":0,"t":8.75,"y":-4},{"c":22,"s":0,"t":10,"y":0},{"c":22,"s":0,"t":11.25,"y":-4},{"c":22,"s":0,"t":12.5,"y":-6},
{"c":22,"s":1,"t":12.5,"y":-6},{"c":22,"s":1,"t":13.75,"y":16},{"c":22,"s":1,"t":15,"y":40},{"c":22,"s":1,"t":16.25,"y":30},{"c":22,"s":1,"t":17.5,"y":-4},{"c":22,"s":1,"t":18.75,"y":-16},{"c":22,"s":1,"t":20,"y":-8},{"c":22,"s":1,"t":21.25,"y":-6},{"c":22,"s":1,"t":22.5,"y":-4},{"c":22,"s":1,"t":23.75,"y":-2},{"c":22,"s":1,"t":25,"y":-4},
{"c":23,"s":0,"t":0,"y":4},{"c":23,"s":0,"t":1.25,"y":20},{"c":23,"s":0,"t":2.5,"y":30},{"c":23,"s":0,"t":3.75,"y":24},{"c":23,"s":0,"t":5,"y":0},{"c":23,"s":0,"t":6.25,"y":-12},{"c":23,"s":0,"t":7.5,"y":-6},{"c":23,"s":0,"t":8.75,"y":2},{"c":23,"s":0,"t":10,"y":0},{"c":23,"s":0,"t":11.25,"y":-4},{"c":23,"s":0,"t":12.5,"y":-6},
{"c":23,"s":1,"t":12.5,"y":0},{"c":23,"s":1,"t":13.75,"y":20},{"c":23,"s":1,"t":15,"y":44},{"c":23,"s":1,"t":16.25,"y":26},{"c":23,"s":1,"t":17.5,"y":-6},{"c":23,"s":1,"t":18.75,"y":-14},{"c":23,"s":1,"t":20,"y":-4},{"c":23,"s":1,"t":21.25,"y":6},{"c":23,"s":1,"t":22.5,"y":8},{"c":23,"s":1,"t":23.75,"y":10},{"c":23,"s":1,"t":25,"y":6},
{"c":24,"s":0,"t":0,"y":-6},{"c":24,"s":0,"t":1.25,"y":8},{"c":24,"s":0,"t":2.5,"y":26},{"c":24,"s":0,"t":3.75,"y":30},{"c":24,"s":0,"t":5,"y":12},{"c":24,"s":0,"t":6.25,"y":-8},{"c":24,"s":0,"t":7.5,"y":-14},{"c":24,"s":0,"t":8.75,"y":-10},{"c":24,"s":0,"t":10,"y":-6},{"c":24,"s":0,"t":11.25,"y":-10},{"c":24,"s":0,"t":12.5,"y":-12},
{"c":24,"s":1,"t":12.5,"y":-8},{"c":24,"s":1,"t":13.75,"y":14},{"c":24,"s":1,"t":15,"y":42},{"c":24,"s":1,"t":16.25,"y":30},{"c":24,"s":1,"t":17.5,"y":-6},{"c":24,"s":1,"t":18.75,"y":-18},{"c":24,"s":1,"t":20,"y":-12},{"c":24,"s":1,"t":21.25,"y":-8},{"c":24,"s":1,"t":22.5,"y":-10},{"c":24,"s":1,"t":23.75,"y":-14},{"c":24,"s":1,"t":25,"y":-10},
{"c":25,"s":0,"t":0,"y":2},{"c":25,"s":0,"t":1.25,"y":16},{"c":25,"s":0,"t":2.5,"y":26},{"c":25,"s":0,"t":3.75,"y":20},{"c":25,"s":0,"t":5,"y":2},{"c":25,"s":0,"t":6.25,"y":-10},{"c":25,"s":0,"t":7.5,"y":-4},{"c":25,"s":0,"t":8.75,"y":4},{"c":25,"s":0,"t":10,"y":6},{"c":25,"s":0,"t":11.25,"y":8},{"c":25,"s":0,"t":12.5,"y":4},
{"c":25,"s":1,"t":12.5,"y":2},{"c":25,"s":1,"t":13.75,"y":18},{"c":25,"s":1,"t":15,"y":34},{"c":25,"s":1,"t":16.25,"y":24},{"c":25,"s":1,"t":17.5,"y":6},{"c":25,"s":1,"t":18.75,"y":-8},{"c":25,"s":1,"t":20,"y":-4},{"c":25,"s":1,"t":21.25,"y":2},{"c":25,"s":1,"t":22.5,"y":0},{"c":25,"s":1,"t":23.75,"y":-4},{"c":25,"s":1,"t":25,"y":0},
{"c":26,"s":0,"t":0,"y":6},{"c":26,"s":0,"t":1.25,"y":24},{"c":26,"s":0,"t":2.5,"y":36},{"c":26,"s":0,"t":3.75,"y":26},{"c":26,"s":0,"t":5,"y":0},{"c":26,"s":0,"t":6.25,"y":-16},{"c":26,"s":0,"t":7.5,"y":-14},{"c":26,"s":0,"t":8.75,"y":-8},{"c":26,"s":0,"t":10,"y":-2},{"c":26,"s":0,"t":11.25,"y":4},{"c":26,"s":0,"t":12.5,"y":6},
{"c":26,"s":1,"t":12.5,"y":4},{"c":26,"s":1,"t":13.75,"y":24},{"c":26,"s":1,"t":15,"y":40},{"c":26,"s":1,"t":16.25,"y":28},{"c":26,"s":1,"t":17.5,"y":20},{"c":26,"s":1,"t":18.75,"y":-6},{"c":26,"s":1,"t":20,"y":-10},{"c":26,"s":1,"t":21.25,"y":-6},{"c":26,"s":1,"t":22.5,"y":-10},{"c":26,"s":1,"t":23.75,"y":-12},{"c":26,"s":1,"t":25,"y":-14},
{"c":27,"s":0,"t":0,"y":0},{"c":27,"s":0,"t":1.25,"y":12},{"c":27,"s":0,"t":2.5,"y":24},{"c":27,"s":0,"t":3.75,"y":26},{"c":27,"s":0,"t":5,"y":10},{"c":27,"s":0,"t":6.25,"y":-10},{"c":27,"s":0,"t":7.5,"y":-16},{"c":27,"s":0,"t":8.75,"y":-10},{"c":27,"s":0,"t":10,"y":-4},{"c":27,"s":0,"t":11.25,"y":2},{"c":27,"s":0,"t":12.5,"y":0},
{"c":27,"s":1,"t":12.5,"y":0},{"c":27,"s":1,"t":13.75,"y":12},{"c":27,"s":1,"t":15,"y":30},{"c":27,"s":1,"t":16.25,"y":24},{"c":27,"s":1,"t":17.5,"y":0},{"c":27,"s":1,"t":18.75,"y":-18},{"c":27,"s":1,"t":20,"y":-16},{"c":27,"s":1,"t":21.25,"y":-6},{"c":27,"s":1,"t":22.5,"y":0},{"c":27,"s":1,"t":23.75,"y":4},{"c":27,"s":1,"t":25,"y":8},
{"c":28,"s":0,"t":0,"y":-4},{"c":28,"s":0,"t":1.25,"y":14},{"c":28,"s":0,"t":2.5,"y":28},{"c":28,"s":0,"t":3.75,"y":28},{"c":28,"s":0,"t":5,"y":4},{"c":28,"s":0,"t":6.25,"y":-14},{"c":28,"s":0,"t":7.5,"y":-12},{"c":28,"s":0,"t":8.75,"y":-4},{"c":28,"s":0,"t":10,"y":2},{"c":28,"s":0,"t":11.25,"y":4},{"c":28,"s":0,"t":12.5,"y":2},
{"c":28,"s":1,"t":12.5,"y":-4},{"c":28,"s":1,"t":13.75,"y":18},{"c":28,"s":1,"t":15,"y":40},{"c":28,"s":1,"t":16.25,"y":28},{"c":28,"s":1,"t":17.5,"y":-4},{"c":28,"s":1,"t":18.75,"y":-16},{"c":28,"s":1,"t":20,"y":-10},{"c":28,"s":1,"t":21.25,"y":-2},{"c":28,"s":1,"t":22.5,"y":2},{"c":28,"s":1,"t":23.75,"y":4},{"c":28,"s":1,"t":25,"y":2}
],
"ie":[
{"e":1,"s":0,"t":0,"v":0.03},{"e":1,"s":0,"t":1,"v":0.11},{"e":1,"s":0,"t":2,"v":0.19},{"e":1,"s":0,"t":2.5,"v":0.212},{"e":1,"s":0,"t":3,"v":0.2},{"e":1,"s":0,"t":4,"v":0.14},{"e":1,"s":0,"t":5,"v":0.05},{"e":1,"s":0,"t":6,"v":-0.02},{"e":1,"s":0,"t":7,"v":-0.01},{"e":1,"s":0,"t":8,"v":0.011},{"e":1,"s":0,"t":9,"v":0.006},{"e":1,"s":0,"t":10,"v":-0.005},{"e":1,"s":0,"t":11,"v":-0.002},{"e":1,"s":0,"t":12,"v":0.004},{"e":1,"s":0,"t":12.5,"v":0.006},
{"e":1,"s":1,"t":12.5,"v":0},{"e":1,"s":1,"t":13,"v":0.06},{"e":1,"s":1,"t":14,"v":0.19},{"e":1,"s":1,"t":15,"v":0.248},{"e":1,"s":1,"t":16,"v":0.19},{"e":1,"s":1,"t":17,"v":0.06},{"e":1,"s":1,"t":18,"v":-0.02},{"e":1,"s":1,"t":18.4,"v":-0.027},{"e":1,"s":1,"t":19,"v":-0.012},{"e":1,"s":1,"t":20,"v":0.025},{"e":1,"s":1,"t":21,"v":0.033},{"e":1,"s":1,"t":22,"v":0.015},{"e":1,"s":1,"t":23,"v":0.005},{"e":1,"s":1,"t":24,"v":0.012},{"e":1,"s":1,"t":25,"v":0.004},
{"e":2,"s":0,"t":0,"v":-0.055},{"e":2,"s":0,"t":1,"v":-0.09},{"e":2,"s":0,"t":2,"v":-0.12},{"e":2,"s":0,"t":2.4,"v":-0.123},{"e":2,"s":0,"t":3,"v":-0.115},{"e":2,"s":0,"t":4,"v":-0.08},{"e":2,"s":0,"t":5,"v":-0.055},{"e":2,"s":0,"t":5.6,"v":-0.05},{"e":2,"s":0,"t":6,"v":-0.052},{"e":2,"s":0,"t":7,"v":-0.066},{"e":2,"s":0,"t":7.7,"v":-0.072},{"e":2,"s":0,"t":8,"v":-0.07},{"e":2,"s":0,"t":9,"v":-0.05},{"e":2,"s":0,"t":10,"v":-0.032},{"e":2,"s":0,"t":11,"v":-0.023},{"e":2,"s":0,"t":12,"v":-0.027},{"e":2,"s":0,"t":12.5,"v":-0.03},
{"e":2,"s":1,"t":12.5,"v":-0.03},{"e":2,"s":1,"t":13,"v":0.02},{"e":2,"s":1,"t":14,"v":0.14},{"e":2,"s":1,"t":14.7,"v":0.172},{"e":2,"s":1,"t":15,"v":0.165},{"e":2,"s":1,"t":16,"v":0.05},{"e":2,"s":1,"t":17,"v":-0.15},{"e":2,"s":1,"t":18,"v":-0.238},{"e":2,"s":1,"t":18.2,"v":-0.24},{"e":2,"s":1,"t":19,"v":-0.182},{"e":2,"s":1,"t":20,"v":-0.09},{"e":2,"s":1,"t":21,"v":-0.05},{"e":2,"s":1,"t":21.3,"v":-0.046},{"e":2,"s":1,"t":22,"v":-0.052},{"e":2,"s":1,"t":23,"v":-0.062},{"e":2,"s":1,"t":24,"v":-0.052},{"e":2,"s":1,"t":25,"v":-0.04},
{"e":3,"s":0,"t":0,"v":-0.065},{"e":3,"s":0,"t":1,"v":0.05},{"e":3,"s":0,"t":2,"v":0.15},{"e":3,"s":0,"t":2.2,"v":0.153},{"e":3,"s":0,"t":3,"v":0.09},{"e":3,"s":0,"t":4,"v":-0.07},{"e":3,"s":0,"t":5,"v":-0.2},{"e":3,"s":0,"t":5.6,"v":-0.254},{"e":3,"s":0,"t":6,"v":-0.245},{"e":3,"s":0,"t":7,"v":-0.16},{"e":3,"s":0,"t":8,"v":-0.085},{"e":3,"s":0,"t":8.3,"v":-0.08},{"e":3,"s":0,"t":9,"v":-0.088},{"e":3,"s":0,"t":9.9,"v":-0.103},{"e":3,"s":0,"t":11,"v":-0.08},{"e":3,"s":0,"t":12,"v":-0.045},{"e":3,"s":0,"t":12.5,"v":-0.035},
{"e":3,"s":1,"t":12.5,"v":-0.06},{"e":3,"s":1,"t":13,"v":-0.07},{"e":3,"s":1,"t":14,"v":-0.088},{"e":3,"s":1,"t":14.6,"v":-0.092},{"e":3,"s":1,"t":15,"v":-0.08},{"e":3,"s":1,"t":16,"v":-0.02},{"e":3,"s":1,"t":17,"v":0.028},{"e":3,"s":1,"t":18,"v":0.04},{"e":3,"s":1,"t":19,"v":0.02},{"e":3,"s":1,"t":20,"v":-0.035},{"e":3,"s":1,"t":21,"v":-0.07},{"e":3,"s":1,"t":22,"v":-0.085},{"e":3,"s":1,"t":23,"v":-0.075},{"e":3,"s":1,"t":24,"v":-0.045},{"e":3,"s":1,"t":25,"v":-0.018}
],
"de":[
{"e":1,"s":0,"t":0,"v":0.02},{"e":1,"s":0,"t":1,"v":0.13},{"e":1,"s":0,"t":2,"v":0.22},{"e":1,"s":0,"t":2.4,"v":0.231},{"e":1,"s":0,"t":3,"v":0.2},{"e":1,"s":0,"t":4,"v":0.11},{"e":1,"s":0,"t":5,"v":0.01},{"e":1,"s":0,"t":6,"v":-0.032},{"e":1,"s":0,"t":7,"v":-0.01},{"e":1,"s":0,"t":8,"v":0.018},{"e":1,"s":0,"t":9,"v":0.01},{"e":1,"s":0,"t":10,"v":-0.008},{"e":1,"s":0,"t":11,"v":-0.004},{"e":1,"s":0,"t":12,"v":0.005},{"e":1,"s":0,"t":12.5,"v":0.006},
{"e":1,"s":1,"t":12.5,"v":0.004},{"e":1,"s":1,"t":13,"v":0.07},{"e":1,"s":1,"t":14,"v":0.19},{"e":1,"s":1,"t":15,"v":0.233},{"e":1,"s":1,"t":16,"v":0.17},{"e":1,"s":1,"t":17,"v":0.055},{"e":1,"s":1,"t":18,"v":-0.005},{"e":1,"s":1,"t":18.4,"v":-0.015},{"e":1,"s":1,"t":19,"v":-0.008},{"e":1,"s":1,"t":20,"v":0.022},{"e":1,"s":1,"t":20.7,"v":0.032},{"e":1,"s":1,"t":21,"v":0.03},{"e":1,"s":1,"t":22,"v":0.015},{"e":1,"s":1,"t":23,"v":0.01},{"e":1,"s":1,"t":24,"v":0.017},{"e":1,"s":1,"t":25,"v":0.007},
{"e":2,"s":0,"t":0,"v":-0.1},{"e":2,"s":0,"t":1,"v":-0.06},{"e":2,"s":0,"t":2,"v":-0.019},{"e":2,"s":0,"t":2.2,"v":-0.017},{"e":2,"s":0,"t":3,"v":-0.045},{"e":2,"s":0,"t":4,"v":-0.13},{"e":2,"s":0,"t":5,"v":-0.188},{"e":2,"s":0,"t":6,"v":-0.15},{"e":2,"s":0,"t":7,"v":-0.06},{"e":2,"s":0,"t":8,"v":-0.002},{"e":2,"s":0,"t":8.2,"v":0},{"e":2,"s":0,"t":9,"v":-0.01},{"e":2,"s":0,"t":10,"v":-0.033},{"e":2,"s":0,"t":11,"v":-0.025},{"e":2,"s":0,"t":12,"v":-0.006},{"e":2,"s":0,"t":12.5,"v":-0.005},
{"e":2,"s":1,"t":12.5,"v":-0.045},{"e":2,"s":1,"t":13,"v":0.02},{"e":2,"s":1,"t":14,"v":0.125},{"e":2,"s":1,"t":14.5,"v":0.133},{"e":2,"s":1,"t":15,"v":0.1},{"e":2,"s":1,"t":16,"v":-0.04},{"e":2,"s":1,"t":17,"v":-0.19},{"e":2,"s":1,"t":17.9,"v":-0.251},{"e":2,"s":1,"t":18,"v":-0.25},{"e":2,"s":1,"t":19,"v":-0.17},{"e":2,"s":1,"t":20,"v":-0.06},{"e":2,"s":1,"t":20.9,"v":-0.006},{"e":2,"s":1,"t":21,"v":-0.006},{"e":2,"s":1,"t":22,"v":-0.025},{"e":2,"s":1,"t":22.8,"v":-0.04},{"e":2,"s":1,"t":23,"v":-0.04},{"e":2,"s":1,"t":24,"v":-0.02},{"e":2,"s":1,"t":25,"v":0},
{"e":3,"s":0,"t":0,"v":0.055},{"e":3,"s":0,"t":0.5,"v":0.058},{"e":3,"s":0,"t":1,"v":0.055},{"e":3,"s":0,"t":2,"v":0.038},{"e":3,"s":0,"t":2.2,"v":0.037},{"e":3,"s":0,"t":3,"v":0.045},{"e":3,"s":0,"t":4,"v":0.08},{"e":3,"s":0,"t":4.5,"v":0.09},{"e":3,"s":0,"t":5,"v":0.075},{"e":3,"s":0,"t":6,"v":0.005},{"e":3,"s":0,"t":7,"v":-0.075},{"e":3,"s":0,"t":8,"v":-0.135},{"e":3,"s":0,"t":9,"v":-0.155},{"e":3,"s":0,"t":10,"v":-0.152},{"e":3,"s":0,"t":11,"v":-0.142},{"e":3,"s":0,"t":12,"v":-0.11},{"e":3,"s":0,"t":12.5,"v":-0.092},
{"e":3,"s":1,"t":12.5,"v":-0.055},{"e":3,"s":1,"t":13,"v":-0.05},{"e":3,"s":1,"t":14,"v":-0.038},{"e":3,"s":1,"t":15,"v":-0.027},{"e":3,"s":1,"t":16,"v":-0.02},{"e":3,"s":1,"t":17,"v":-0.018},{"e":3,"s":1,"t":18,"v":-0.018},{"e":3,"s":1,"t":19,"v":-0.03},{"e":3,"s":1,"t":20,"v":-0.06},{"e":3,"s":1,"t":21,"v":-0.12},{"e":3,"s":1,"t":22,"v":-0.17},{"e":3,"s":1,"t":22.9,"v":-0.184},{"e":3,"s":1,"t":23,"v":-0.183},{"e":3,"s":1,"t":24,"v":-0.16},{"e":3,"s":1,"t":25,"v":-0.123}
],
"li":[{"k":"1st eigenvector (λ₁=0.630)"},{"k":"2nd eigenvector (λ₂=0.119)"},{"k":"3rd eigenvector (λ₃=0.075)"}],
"ld":[{"k":"1st eigenvector (λ₁=0.640)"},{"k":"2nd eigenvector (λ₂=0.126)"},{"k":"3rd eigenvector (λ₃=0.073)"}]
},
"columns":2,
"spacing":{"row":48,"column":133},
"bounds":"flush",
"concat":[
{"width":541,"height":239,
"title":{"text":"Independent responses","font":"Liberation Serif","fontSize":22,"fontWeight":"normal","color":"black","anchor":"middle","frame":"bounds","offset":20,"dx":3},
"layer":[
{"data":{"name":"ia"},"mark":{"type":"line","interpolate":"monotone","strokeWidth":1.1},
"encoding":{
"x":{"field":"t","type":"quantitative","scale":{"domain":[0,25],"nice":false},"axis":{"values":[0,5,10,15,20,25],"title":null}},
"y":{"field":"y","type":"quantitative","scale":{"domain":[-40,80],"nice":false},"axis":{"values":[-40,-20,0,20,40,60,80],"title":"BOLD responses"}},
"color":{"field":"c","type":"nominal","scale":{"domain":[1,2,3,4,5,6,7,8,9,10,11,12,13,14,15,16,17,18,19,20,21,22,23,24,25,26,27,28],"range":["#0000ff","#008000","#ff0000","#00bfbf","#bf00bf","#bfbf00","#404040"]},"legend":null},
"detail":{"field":"s"}}},
{"data":{"values":[{}]},"mark":{"type":"rule","strokeDash":[2,10.6],"strokeWidth":2,"color":"black"},"encoding":{"x":{"datum":12.5,"axis":null}}},
{"data":{"values":[{}]},"mark":{"type":"text","fontSize":16,"baseline":"middle","align":"center"},"encoding":{"x":{"datum":6.25,"axis":null},"y":{"datum":88,"axis":null},"text":{"value":"Primary visual cortex"}}},
{"data":{"values":[{}]},"mark":{"type":"text","fontSize":16,"baseline":"middle","align":"center"},"encoding":{"x":{"datum":18.75,"axis":null},"y":{"datum":88,"axis":null},"text":{"value":"Primary motor cortex"}}},
{"data":{"values":[{}]},"mark":{"type":"point","opacity":0},"encoding":{"x":{"datum":0,"axis":{"orient":"top","values":[0,5,10,15,20,25],"labels":false,"title":null}},"y":{"datum":0,"axis":{"orient":"right","values":[-40,-20,0,20,40,60,80],"labels":false,"title":null}}}}
],
"resolve":{"axis":{"x":"independent","y":"independent"}}},
{"width":541,"height":239,
"title":{"text":"Dependent responses","font":"Liberation Serif","fontSize":22,"fontWeight":"normal","color":"black","anchor":"middle","frame":"bounds","offset":20,"dx":3},
"layer":[
{"data":{"name":"da"},"mark":{"type":"line","interpolate":"monotone","strokeWidth":1.1},
"encoding":{
"x":{"field":"t","type":"quantitative","scale":{"domain":[0,25],"nice":false},"axis":{"values":[0,5,10,15,20,25],"title":null}},
"y":{"field":"y","type":"quantitative","scale":{"domain":[-40,80],"nice":false},"axis":{"values":[-40,-20,0,20,40,60,80],"title":"BOLD responses"}},
"color":{"field":"c","type":"nominal","scale":{"domain":[1,2,3,4,5,6,7,8,9,10,11,12,13,14,15,16,17,18,19,20,21,22,23,24,25,26,27,28],"range":["#0000ff","#008000","#ff0000","#00bfbf","#bf00bf","#bfbf00","#404040"]},"legend":null},
"detail":{"field":"s"}}},
{"data":{"values":[{}]},"mark":{"type":"rule","strokeDash":[2,10.6],"strokeWidth":2,"color":"black"},"encoding":{"x":{"datum":12.5,"axis":null}}},
{"data":{"values":[{}]},"mark":{"type":"text","fontSize":16,"baseline":"middle","align":"center"},"encoding":{"x":{"datum":6.25,"axis":null},"y":{"datum":88,"axis":null},"text":{"value":"Primary visual cortex"}}},
{"data":{"values":[{}]},"mark":{"type":"text","fontSize":16,"baseline":"middle","align":"center"},"encoding":{"x":{"datum":18.75,"axis":null},"y":{"datum":88,"axis":null},"text":{"value":"Primary motor cortex"}}},
{"data":{"values":[{}]},"mark":{"type":"point","opacity":0},"encoding":{"x":{"datum":0,"axis":{"orient":"top","values":[0,5,10,15,20,25],"labels":false,"title":null}},"y":{"datum":0,"axis":{"orient":"right","values":[-40,-20,0,20,40,60,80],"labels":false,"title":null}}}}
],
"resolve":{"axis":{"x":"independent","y":"independent"}}},
{"width":541,"height":318,
"title":{"text":"(a)","orient":"bottom","font":"Liberation Serif","fontSize":20,"fontWeight":"normal","color":"black","anchor":"middle","frame":"bounds","offset":24,"dx":4},
"layer":[
{"data":{"name":"ie"},"mark":{"type":"line","interpolate":"monotone","strokeWidth":1.3},
"encoding":{
"x":{"field":"t","type":"quantitative","scale":{"domain":[0,25],"nice":false},"axis":{"values":[0,5,10,15,20,25],"title":"Time (s)"}},
"y":{"field":"v","type":"quantitative","scale":{"domain":[-0.3,0.5],"nice":false,"zero":false},"axis":{"values":[-0.2,-0.1,0,0.1,0.2,0.3,0.4,0.5],"format":".1~f","title":"Eigenvectors"}},
"color":{"field":"e","type":"nominal","scale":{"domain":[1,2,3],"range":["#0000ff","#008000","#ff0000"]},"legend":null},
"detail":{"field":"s"}}},
{"data":{"values":[{}]},"mark":{"type":"rule","strokeDash":[2,10.5],"strokeWidth":2,"color":"black"},"encoding":{"x":{"datum":12.5,"axis":null}}},
{"data":{"name":"li"},"mark":{"type":"line","opacity":0},"encoding":{"x":{"datum":0,"axis":null},"y":{"datum":0,"axis":null},
"color":{"field":"k","type":"nominal","scale":{"domain":["1st eigenvector (λ₁=0.630)","2nd eigenvector (λ₂=0.119)","3rd eigenvector (λ₃=0.075)"],"range":["#0000ff","#00ff00","#ff0000"]},
"legend":{"orient":"none","legendX":294.6,"legendY":16,"title":null,"symbolType":"M-2.7,0H2.7","symbolSize":256,"symbolStrokeWidth":1.3,"symbolOpacity":1,"symbolFillColor":"transparent","labelFont":"Liberation Sans","labelFontSize":16,"labelColor":"black","labelOffset":18.6,"labelLimit":400,"rowPadding":6,"padding":0}}}},
{"data":{"values":[{}]},"mark":{"type":"point","opacity":0},"encoding":{"x":{"datum":0,"axis":{"orient":"top","values":[0,5,10,15,20,25],"labels":false,"title":null}},"y":{"datum":0,"axis":{"orient":"right","values":[-0.2,-0.1,0,0.1,0.2,0.3,0.4,0.5],"labels":false,"title":null}}}}
],
"resolve":{"scale":{"color":"independent"},"axis":{"x":"independent","y":"independent"},"legend":{"color":"independent"}}},
{"width":541,"height":318,
"title":{"text":"(b)","orient":"bottom","font":"Liberation Serif","fontSize":20,"fontWeight":"normal","color":"black","anchor":"middle","frame":"bounds","offset":24,"dx":4},
"layer":[
{"data":{"name":"de"},"mark":{"type":"line","interpolate":"monotone","strokeWidth":1.3},
"encoding":{
"x":{"field":"t","type":"quantitative","scale":{"domain":[0,25],"nice":false},"axis":{"values":[0,5,10,15,20,25],"title":"Time (s)"}},
"y":{"field":"v","type":"quantitative","scale":{"domain":[-0.3,0.5],"nice":false,"zero":false},"axis":{"values":[-0.2,-0.1,0,0.1,0.2,0.3,0.4,0.5],"format":".1~f","title":"Eigenvectors"}},
"color":{"field":"e","type":"nominal","scale":{"domain":[1,2,3],"range":["#0000ff","#008000","#ff0000"]},"legend":null},
"detail":{"field":"s"}}},
{"data":{"values":[{}]},"mark":{"type":"rule","strokeDash":[2,10.5],"strokeWidth":2,"color":"black"},"encoding":{"x":{"datum":12.5,"axis":null}}},
{"data":{"name":"ld"},"mark":{"type":"line","opacity":0},"encoding":{"x":{"datum":0,"axis":null},"y":{"datum":0,"axis":null},
"color":{"field":"k","type":"nominal","scale":{"domain":["1st eigenvector (λ₁=0.640)","2nd eigenvector (λ₂=0.126)","3rd eigenvector (λ₃=0.073)"],"range":["#0000ff","#00ff00","#ff0000"]},
"legend":{"orient":"none","legendX":294.6,"legendY":16,"title":null,"symbolType":"M-2.7,0H2.7","symbolSize":256,"symbolStrokeWidth":1.3,"symbolOpacity":1,"symbolFillColor":"transparent","labelFont":"Liberation Sans","labelFontSize":16,"labelColor":"black","labelOffset":18.6,"labelLimit":400,"rowPadding":6,"padding":0}}}},
{"data":{"values":[{}]},"mark":{"type":"point","opacity":0},"encoding":{"x":{"datum":0,"axis":{"orient":"top","values":[0,5,10,15,20,25],"labels":false,"title":null}},"y":{"datum":0,"axis":{"orient":"right","values":[-0.2,-0.1,0,0.1,0.2,0.3,0.4,0.5],"labels":false,"title":null}}}}
],
"resolve":{"scale":{"color":"independent"},"axis":{"x":"independent","y":"independent"},"legend":{"color":"independent"}}}
]
}
